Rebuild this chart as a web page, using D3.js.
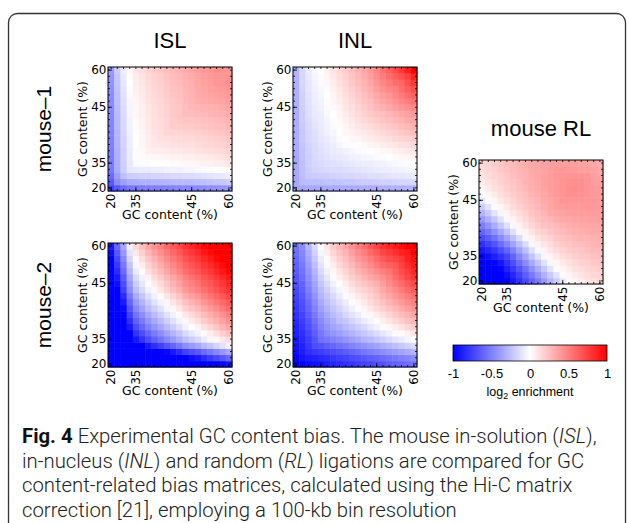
<!DOCTYPE html>
<html><head><meta charset="utf-8">
<script src="https://cdn.jsdelivr.net/npm/d3@7"></script>
<style>body{margin:0;background:#fff}</style>
</head><body>
<svg id="c" width="629" height="523"></svg>
<script>
// ---------- data ----------
const gcBins = d3.range(20);                 // 20 GC-content bins (20% .. 60%)
const tickBins = [0, 4, 13, 19];
const tickLabels = ["20", "35", "45", "60"];
const colorTicks = [-1, -0.5, 0, 0.5, 1];
const colorTickLabels = ["-1", "-0.5", "0", "0.5", "1"];
const panelTitles = ["ISL", "INL", "mouse RL"];
const rowLabels = ["mouse\u20131", "mouse\u20132"];

// symmetric bias matrices: row i lists bins j = i..19 (log2 enrichment x 100)
const islMouse1 = [
 [-75,-65,-58,-53,-52,-51,-51,-50,-50,-49,-48,-48,-47,-47,-46,-45,-44,-43,-42,-40],
 [-45,-38,-33,-32,-31,-31,-30,-30,-29,-28,-28,-27,-27,-26,-25,-24,-23,-22,-20],
 [-25,-20,-19,-18,-18,-17,-17,-16,-15,-15,-14,-14,-13,-12,-11,-10,-9,-7],
 [-10,-9,-8,-8,-7,-7,-6,-5,-5,-4,-4,-3,-2,-1,0,1,3],
 [-2,-1,-1,0,0,1,2,2,3,3,4,5,6,7,8,10],
 [2,2,3,3,4,5,5,6,6,7,8,9,10,11,13],
 [6,7,7,8,9,9,10,10,11,12,13,14,15,17],
 [10,10,11,12,12,13,13,14,15,16,17,18,20],
 [12,13,14,14,15,15,16,17,18,19,20,22],
 [16,17,17,18,18,19,20,21,22,23,25],
 [20,20,21,21,22,23,24,25,26,28],
 [22,23,23,24,25,26,27,28,30],
 [26,26,27,28,29,30,31,33],
 [28,29,30,31,32,33,35],
 [32,33,34,35,36,38],
 [35,36,37,38,40],
 [38,39,40,42],
 [41,42,44],
 [41,43],
 [40]
];
const inlMouse1 = [
 [-35,-35,-34,-34,-34,-34,-33,-33,-33,-33,-32,-32,-32,-32,-31,-31,-31,-31,-30,-30],
 [-27,-26,-26,-25,-24,-24,-23,-22,-22,-21,-20,-20,-19,-18,-18,-17,-16,-16,-15],
 [-21,-20,-19,-19,-18,-17,-16,-16,-15,-14,-13,-13,-12,-11,-10,-10,-9,-8],
 [-17,-16,-15,-14,-14,-13,-12,-11,-10,-9,-8,-7,-7,-6,-5,-4,-3],
 [-14,-13,-12,-11,-10,-9,-8,-7,-7,-6,-5,-4,-3,-2,-1,0],
 [-11,-10,-9,-8,-6,-5,-4,-3,-2,-1,0,2,3,4,5],
 [-8,-7,-5,-4,-2,-1,0,2,3,4,6,7,9,10],
 [-4,-2,-1,1,2,4,5,7,9,10,12,13,15],
 [1,3,4,6,8,10,11,13,15,17,18,20],
 [5,7,9,11,13,15,17,19,21,23,25],
 [10,12,14,17,19,21,23,26,28,30],
 [15,18,20,23,25,28,30,33,35],
 [21,24,26,29,32,35,37,40],
 [28,31,34,38,41,44,47],
 [35,39,43,47,51,55],
 [42,47,52,57,62],
 [50,57,63,70],
 [60,69,78],
 [75,88],
 [100]
];
const islMouse2 = [
 [-100,-100,-100,-100,-100,-100,-100,-100,-100,-100,-100,-100,-100,-100,-100,-100,-100,-100,-96,-90],
 [-100,-100,-100,-100,-100,-100,-100,-100,-100,-100,-100,-100,-95,-90,-83,-78,-72,-66,-60],
 [-100,-100,-100,-100,-100,-100,-100,-97,-90,-83,-75,-70,-65,-58,-53,-47,-41,-35],
 [-100,-100,-100,-90,-82,-75,-67,-60,-53,-45,-40,-35,-28,-23,-17,-11,-5],
 [-90,-80,-70,-62,-55,-47,-40,-33,-25,-20,-15,-8,-3,3,9,15],
 [-70,-60,-52,-45,-37,-30,-23,-15,-10,-5,2,7,13,19,25],
 [-50,-42,-35,-27,-20,-13,-5,0,5,12,17,23,29,35],
 [-34,-27,-19,-12,-5,3,8,13,20,25,31,37,43],
 [-20,-12,-5,2,10,15,20,27,32,38,44,50],
 [-4,3,10,18,23,28,35,40,46,52,58],
 [10,17,25,30,35,42,47,53,59,65],
 [24,32,37,42,49,54,60,66,72],
 [40,45,50,57,62,68,74,80],
 [50,55,62,67,73,79,85],
 [60,67,72,78,84,90],
 [74,79,85,91,97],
 [84,90,96,100],
 [96,100,100],
 [100,100],
 [100]
];
const inlMouse2 = [
 [-100,-98,-95,-93,-91,-88,-86,-83,-81,-79,-76,-74,-72,-69,-67,-64,-62,-60,-57,-55],
 [-92,-89,-87,-84,-82,-79,-76,-74,-71,-69,-66,-63,-61,-58,-55,-53,-50,-48,-45],
 [-82,-79,-76,-73,-70,-67,-64,-61,-58,-54,-51,-48,-45,-42,-39,-36,-33,-30],
 [-70,-67,-63,-60,-56,-53,-49,-46,-43,-39,-36,-32,-29,-25,-22,-18,-15],
 [-57,-53,-49,-46,-42,-38,-34,-30,-27,-23,-19,-15,-11,-8,-4,0],
 [-46,-42,-38,-34,-30,-26,-22,-18,-14,-10,-6,-2,2,6,10],
 [-36,-32,-27,-23,-19,-15,-10,-6,-2,3,7,11,16,20],
 [-26,-22,-17,-13,-8,-4,1,6,10,15,19,24,28],
 [-16,-11,-7,-2,3,7,12,17,21,26,30,35],
 [-6,-1,4,9,14,19,23,28,33,38,43],
 [4,9,14,19,24,30,35,40,45,50],
 [12,18,23,29,35,40,46,51,57],
 [21,27,34,40,46,52,59,65],
 [31,38,45,52,58,65,72],
 [43,50,58,65,73,80],
 [54,62,70,77,85],
 [66,74,82,90],
 [78,87,95],
 [90,100],
 [100]
];
const rlMouse = [
 [-100,-100,-100,-100,-98,-90,-81,-71,-61,-51,-40,-30,-20,-10,-2,4,7,11,13,15],
 [-100,-100,-100,-94,-85,-75,-64,-53,-42,-31,-21,-11,-2,4,8,11,14,16,17],
 [-100,-98,-88,-78,-67,-56,-44,-33,-22,-11,-2,4,8,12,14,17,18,20],
 [-92,-81,-70,-58,-46,-34,-23,-12,-3,4,9,12,15,18,19,21,22],
 [-73,-61,-48,-36,-24,-13,-3,4,9,13,16,19,21,22,24,25],
 [-50,-37,-25,-13,-3,5,10,14,17,20,22,23,25,27,27],
 [-26,-14,-3,5,10,14,18,21,23,25,26,28,29,30],
 [-3,5,11,15,18,22,24,26,28,30,30,31,32],
 [11,16,19,23,25,27,29,31,32,33,34,34],
 [20,24,26,28,30,32,33,34,35,35,35],
 [27,29,32,34,35,36,37,37,37,37],
 [33,35,36,38,39,39,39,39,38],
 [38,39,40,40,40,41,40,39],
 [42,42,42,42,41,41,39],
 [44,44,43,42,40,39],
 [45,44,42,40,38],
 [44,42,39,37],
 [41,38,36],
 [37,34],
 [32]
];

// ---------- drawing ----------
const svg = d3.select("#c");
const SIZE = 124;
const color = d3.scaleLinear().domain([-1, 0, 1])
  .range(["#0000ff", "#ffffff", "#ff0000"]).clamp(true);
const value = (tri, r, c) => {
  const lo = Math.min(r, c), hi = Math.max(r, c);
  return tri[lo][hi - lo] / 100;
};
const fmt = i => tickLabels[tickBins.indexOf(i)];

// outer frame
svg.append("rect").attr("x", 8.5).attr("y", 13.5).attr("width", 617).attr("height", 530)
  .attr("rx", 9).attr("fill", "none").attr("stroke", "#333").attr("stroke-width", 1.3);

const panels = [
  {data: islMouse1, x: 108, y: 67},
  {data: inlMouse1, x: 293, y: 67},
  {data: islMouse2, x: 108, y: 243},
  {data: inlMouse2, x: 293, y: 243},
  {data: rlMouse,   x: 479, y: 160}
];

panels.forEach(p => {
  const g = svg.append("g");
  const xs = d3.scaleBand().domain(gcBins).range([p.x, p.x + SIZE]);
  const ys = d3.scaleBand().domain(gcBins).range([p.y + SIZE, p.y]);
  const cells = [];
  gcBins.forEach(r => gcBins.forEach(c => cells.push({r, c, v: value(p.data, r, c)})));
  g.selectAll("rect.cell").data(cells).join("rect").attr("class", "cell")
    .attr("x", d => xs(d.c)).attr("y", d => ys(d.r))
    .attr("width", xs.bandwidth() + 0.5).attr("height", ys.bandwidth() + 0.5)
    .attr("fill", d => color(d.v));

  const tickStyle = sel => { sel.select(".domain").remove(); sel.selectAll("line").attr("stroke", "#000").attr("stroke-width", 0.8); };
  // minor ticks on all sides (inward)
  g.append("g").attr("transform", `translate(${p.x},0)`).call(d3.axisLeft(ys).tickValues(gcBins).tickSize(-2).tickFormat("")).call(tickStyle);
  g.append("g").attr("transform", `translate(${p.x + SIZE},0)`).call(d3.axisRight(ys).tickValues(gcBins).tickSize(-2).tickFormat("")).call(tickStyle);
  g.append("g").attr("transform", `translate(0,${p.y})`).call(d3.axisTop(xs).tickValues(gcBins).tickSize(-2).tickFormat("")).call(tickStyle);
  g.append("g").attr("transform", `translate(0,${p.y + SIZE})`).call(d3.axisBottom(xs).tickValues(gcBins).tickSize(-2).tickFormat("")).call(tickStyle);

  // major ticks + labels
  const yAx = g.append("g").attr("transform", `translate(${p.x},0)`)
    .call(d3.axisLeft(ys).tickValues(tickBins).tickFormat(fmt).tickSizeInner(-4).tickSizeOuter(0).tickPadding(1.5))
    .call(tickStyle);
  yAx.selectAll("text").attr("font-family", "'DejaVu Sans', sans-serif").attr("font-size", 12).attr("fill", "#000");
  const xAx = g.append("g").attr("transform", `translate(0,${p.y + SIZE})`)
    .call(d3.axisBottom(xs).tickValues(tickBins).tickFormat(fmt).tickSizeInner(-4).tickSizeOuter(0))
    .call(tickStyle);
  xAx.selectAll("text").attr("font-family", "'DejaVu Sans', sans-serif").attr("font-size", 12).attr("fill", "#000")
    .attr("transform", "rotate(-90)").attr("text-anchor", "end").attr("x", -2.5).attr("y", 0).attr("dy", "0.36em");

  // frame
  g.append("rect").attr("x", p.x).attr("y", p.y).attr("width", SIZE).attr("height", SIZE)
    .attr("fill", "none").attr("stroke", "#000").attr("stroke-width", 1);

  // axis titles
  g.append("text").attr("x", p.x + SIZE / 2).attr("y", p.y + SIZE + 28).attr("text-anchor", "middle")
    .attr("font-family", "'DejaVu Sans', sans-serif").attr("font-size", 12.5).text("GC content (%)");
  g.append("text").attr("transform", `translate(${p.x - 21},${p.y + SIZE / 2}) rotate(-90)`).attr("text-anchor", "middle")
    .attr("font-family", "'DejaVu Sans', sans-serif").attr("font-size", 12.5).text("GC content (%)");
});

// panel titles
const titleFont = "'Liberation Sans', Arial, sans-serif";
[[panelTitles[0], 170, 48], [panelTitles[1], 355, 48], [panelTitles[2], 541, 136]].forEach(([t, x, y]) => {
  svg.append("text").attr("x", x).attr("y", y).attr("text-anchor", "middle")
    .attr("font-family", titleFont).attr("font-size", 22).text(t);
});
[[rowLabels[0], 129], [rowLabels[1], 305]].forEach(([t, y]) => {
  svg.append("text").attr("transform", `translate(51,${y}) rotate(-90)`).attr("text-anchor", "middle")
    .attr("font-family", titleFont).attr("font-size", 21).text(t);
});

// colour bar
const defs = svg.append("defs");
const grad = defs.append("linearGradient").attr("id", "bwr");
[-1, 0, 1].forEach(v => grad.append("stop").attr("offset", (v + 1) / 2).attr("stop-color", color(v)));
const cx = d3.scaleLinear().domain([-1, 1]).range([453, 607]);
svg.append("rect").attr("x", cx(-1)).attr("y", 345).attr("width", cx(1) - cx(-1)).attr("height", 16)
  .attr("fill", "url(#bwr)").attr("stroke", "#000").attr("stroke-width", 0.8);
const cAx = svg.append("g").attr("transform", "translate(0,361)")
  .call(d3.axisBottom(cx).tickValues(colorTicks).tickFormat((d, i) => colorTickLabels[i]).tickSize(0));
cAx.select(".domain").remove();
cAx.selectAll("text").attr("font-family", titleFont).attr("font-size", 13).attr("fill", "#000")
  .attr("y", 17).attr("dy", 0);
const lg = svg.append("text").attr("x", 530).attr("y", 396).attr("text-anchor", "middle")
  .attr("font-family", titleFont).attr("font-size", 12.5);
lg.append("tspan").text("log");
lg.append("tspan").attr("font-size", 9).attr("dy", 3).text("2");
lg.append("tspan").attr("dy", -3).text(" enrichment");

// caption
const captionLines = [
  [["Fig. 4", "b"], [" Experimental GC content bias. The mouse in-solution (", ""], ["ISL", "i"], ["),", ""]],
  [["in-nucleus (", ""], ["INL", "i"], [") and random (", ""], ["RL", "i"], [") ligations are compared for GC", ""]],
  [["content-related bias matrices, calculated using the Hi-C matrix", ""]],
  [["correction [21], employing a 100-kb bin resolution", ""]]
];
const capG = svg.append("g").attr("font-family", "Roboto, 'Open Sans', sans-serif").attr("font-weight", 300)
  .attr("fill", "#222").attr("font-size", 17);
const capTexts = captionLines.map((line, k) => {
  const t = capG.append("text").attr("x", 22).attr("y", 443 + k * 24.5);
  line.forEach(([s, st]) => {
    const sp = t.append("tspan").text(s);
    if (st === "b") sp.attr("font-weight", "bold").attr("fill", "#111");
    if (st === "i") sp.attr("font-style", "italic");
  });
  return t;
});
const w1 = capTexts[0].node().getComputedTextLength();
capG.attr("font-size", 17 * 575 / w1);
</script>
</body></html>
